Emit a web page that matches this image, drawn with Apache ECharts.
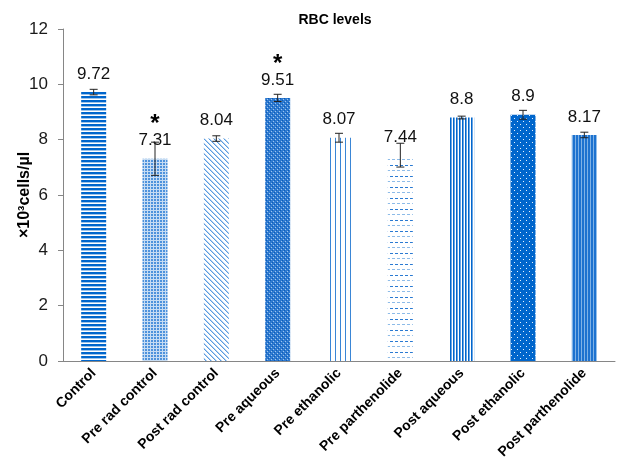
<!DOCTYPE html>
<html>
<head>
<meta charset="utf-8">
<script src="https://cdn.jsdelivr.net/npm/echarts@6/dist/echarts.min.js"></script>
<style>
  html, body { margin: 0; padding: 0; background: #fff; }
  #chart { width: 618px; height: 468px; }
</style>
</head>
<body>
<div id="chart"></div>
<script>
// RBC counts per group (×10³ cells/µl)
const groups = ['Control', 'Pre rad control', 'Post rad control', 'Pre aqueous', 'Pre ethanolic',
  'Pre parthenolide', 'Post aqueous', 'Post ethanolic', 'Post parthenolide'];
const means = [9.72, 7.31, 8.04, 9.51, 8.07, 7.44, 8.8, 8.9, 8.17];
const errors = [0.1, 0.6, 0.1, 0.13, 0.16, 0.43, 0.05, 0.16, 0.1];
const significant = [false, true, false, true, false, false, false, false, false];
const yTicks = [0, 2, 4, 6, 8, 10, 12];

// Small canvas tiles used as bar fills
function tile(w, h, draw) {
  const c = document.createElement('canvas');
  c.width = w; c.height = h;
  const g = c.getContext('2d');
  g.fillStyle = '#ffffff';
  g.fillRect(0, 0, w, h);
  draw(g);
  return { image: c, repeat: 'repeat' };
}
const BLUE = '#0066cc';
const LIGHT = '#9cc3ea';

const fills = [
  // horizontal stripes
  tile(4, 4, g => { g.fillStyle = BLUE; g.fillRect(0, 0, 4, 2); g.fillStyle = LIGHT; g.fillRect(0, 2, 4, 1); }),
  // fine dotted grid
  tile(3, 3, g => { g.fillStyle = '#4d92dc'; g.fillRect(1, 1, 2, 2); g.fillStyle = '#c6dcf3'; g.fillRect(0, 0, 3, 1); g.fillRect(0, 0, 1, 3); }),
  // diagonal hatching
  tile(5, 5, g => { g.fillStyle = '#5a9be0'; for (let i = 0; i < 5; i++) g.fillRect(i, i, 1, 1); g.fillStyle = '#b5d2f0'; for (let i = 0; i < 5; i++) g.fillRect((i + 1) % 5, i, 1, 1); }),
  // woven diamonds
  tile(4, 4, g => { g.fillStyle = '#2f7ad0'; g.fillRect(0, 0, 4, 4); g.fillStyle = '#9fc6ee'; g.fillRect(1, 1, 1, 1); g.fillRect(3, 3, 1, 1); g.fillStyle = '#0a5cb8'; g.fillRect(0, 2, 1, 1); g.fillRect(2, 0, 1, 1); }),
  // wide vertical lines
  tile(5, 4, g => { g.fillStyle = '#3a86d6'; g.fillRect(0, 0, 1, 4); }),
  // dashed horizontals
  tile(10, 11, g => { g.fillStyle = '#2a7ad2'; g.fillRect(0, 0, 3, 1); g.fillRect(5, 0, 3, 1); g.fillStyle = '#8dbbe8'; g.fillRect(2, 5, 3, 1); g.fillRect(7, 5, 3, 1); }),
  // dense vertical lines
  tile(3, 4, g => { g.fillStyle = BLUE; g.fillRect(0, 0, 1, 4); g.fillStyle = '#6aa5e4'; g.fillRect(1, 0, 1, 4); }),
  // solid with white dots
  tile(6, 6, g => { g.fillStyle = BLUE; g.fillRect(0, 0, 6, 6); g.fillStyle = '#e8f1fb'; g.fillRect(1, 1, 1, 1); g.fillRect(4, 4, 1, 1); }),
  // vertical lines, darker
  tile(3, 4, g => { g.fillStyle = '#1d72cf'; g.fillRect(0, 0, 2, 4); g.fillStyle = '#7fb2e6'; g.fillRect(2, 0, 1, 4); })
];

const chart = echarts.init(document.getElementById('chart'), null, { renderer: 'canvas' });

const barData = means.map((v, i) => ({
  value: v,
  itemStyle: { color: fills[i] },
  label: { formatter: significant[i] ? '{s|*}\n{v|' + v + '}' : '{v|' + v + '}' }
}));

chart.setOption({
  animation: false,
  title: {
    text: 'RBC levels',
    left: 330, top: 8, textAlign: 'center',
    textStyle: { fontFamily: 'Liberation Sans', fontSize: 14, fontWeight: 'bold', color: '#000' }
  },
  grid: { left: 63, right: 3, top: 29, bottom: 107, outerBoundsMode: 'none' },
  xAxis: {
    type: 'category',
    data: groups,
    axisLine: { lineStyle: { color: '#868686' } },
    axisTick: { length: 5, lineStyle: { color: '#868686' } },
    axisLabel: {
      interval: 0, rotate: 45, margin: 10,
      fontFamily: 'Liberation Sans', fontSize: 14, fontWeight: 'bold', color: '#000'
    }
  },
  yAxis: {
    type: 'value',
    min: yTicks[0], max: yTicks[yTicks.length - 1], interval: 2,
    name: '×10³cells/µl',
    nameLocation: 'middle', nameGap: 30, nameMoveOverlap: false,
    nameTextStyle: { fontFamily: 'Liberation Sans', fontSize: 16, fontWeight: 'bold', color: '#000' },
    axisLine: { show: true, lineStyle: { color: '#868686' } },
    axisTick: { show: true, length: 5, lineStyle: { color: '#868686' } },
    splitLine: { show: false },
    axisLabel: { margin: 15, fontFamily: 'Liberation Sans', fontSize: 17, color: '#1a1a1a' }
  },
  series: [
    {
      type: 'bar',
      barWidth: 25,
      data: barData,
      label: {
        show: true, position: 'top', distance: 9,
        rich: {
          v: { fontFamily: 'Liberation Sans', fontSize: 17, color: '#111', lineHeight: 18 },
          s: { fontFamily: 'Liberation Sans', fontSize: 24, fontWeight: 'bold', color: '#000', lineHeight: 20, padding: [6, 0, 0, 0] }
        }
      }
    },
    {
      type: 'custom',
      z: 5,
      data: means.map((v, i) => [i, v, errors[i]]),
      renderItem: function (params, api) {
        const x = api.value(0), v = api.value(1), e = api.value(2);
        const hi = api.coord([x, v + e]);
        const lo = api.coord([x, v - e]);
        const cap = 4;
        const style = { stroke: '#222', lineWidth: 1 };
        return {
          type: 'group',
          children: [
            { type: 'line', shape: { x1: hi[0], y1: hi[1], x2: lo[0], y2: lo[1] }, style },
            { type: 'line', shape: { x1: hi[0] - cap, y1: hi[1], x2: hi[0] + cap, y2: hi[1] }, style },
            { type: 'line', shape: { x1: lo[0] - cap, y1: lo[1], x2: lo[0] + cap, y2: lo[1] }, style }
          ]
        };
      }
    }
  ]
});
</script>
</body>
</html>
